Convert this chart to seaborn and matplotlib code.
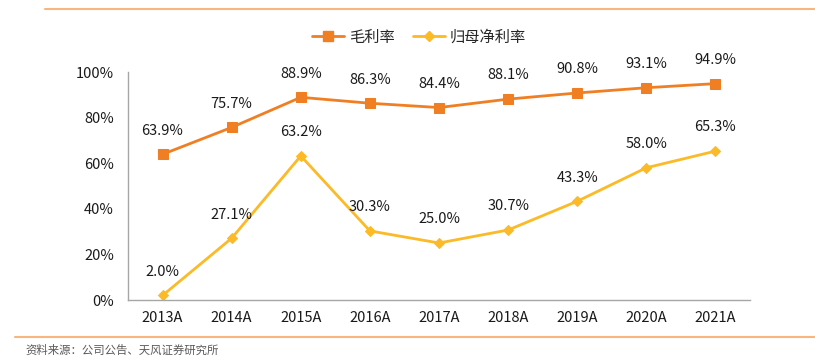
import matplotlib
matplotlib.use("Agg")
import matplotlib.pyplot as plt
import numpy as np
import pandas as pd
import seaborn as sns
from matplotlib.lines import Line2D

years = ["2013A", "2014A", "2015A", "2016A", "2017A", "2018A", "2019A", "2020A", "2021A"]
gross_margin = [63.9, 75.7, 88.9, 86.3, 84.4, 88.1, 90.8, 93.1, 94.9]
net_margin = [2.0, 27.1, 63.2, 30.3, 25.0, 30.7, 43.3, 58.0, 65.3]
series_names = ["毛利率", "归母净利率"]

ORANGE = "#F07F23"
YELLOW = "#FBBA26"
GRAY = "#A6A6A6"

sns.set_theme(style="white")
plt.rcParams["font.family"] = ["Noto Sans CJK SC", "DejaVu Sans"]

df = pd.DataFrame({
    "pos": list(range(len(years))) * 2,
    "value": gross_margin + net_margin,
    "series": [series_names[0]] * len(years) + [series_names[1]] * len(years),
})

fig = plt.figure(figsize=(8.15, 3.58), dpi=100)
ax = fig.add_axes([128 / 815, 1 - 300 / 358, (750 - 128) / 815, (300 - 72) / 358])

styles = {series_names[0]: (ORANGE, "s", 6.5), series_names[1]: (YELLOW, "D", 5.5)}
for name, (color, marker, ms) in styles.items():
    sub = df[df["series"] == name]
    sns.lineplot(data=sub, x="pos", y="value", color=color, marker=marker,
                 markersize=ms, markeredgecolor=color, linewidth=2, ax=ax, legend=False)
    for x, y in zip(sub["pos"], sub["value"]):
        ax.annotate(f"{y:.1f}%", (x, y), xytext=(0, 12), textcoords="offset points",
                    ha="center", va="bottom", fontsize=10.5, color="#1a1a1a")

ax.set_xlim(-0.5, len(years) - 0.5)
ax.set_ylim(0, 100)
ax.set_yticks(np.arange(0, 101, 20))
ax.set_yticklabels([f"{v}%" for v in range(0, 101, 20)], fontsize=10.5, color="#1a1a1a")
ax.set_xticks(range(len(years)))
ax.set_xticklabels(years, fontsize=10.5, color="#1a1a1a")
ax.set_xticks(np.arange(-0.5, len(years), 1), minor=True)
ax.tick_params(axis="x", which="major", length=0, pad=8)
ax.tick_params(axis="x", which="minor", length=4, color=GRAY, width=1, direction="out")
ax.tick_params(axis="y", length=4, color=GRAY, width=1, direction="out", pad=6)
ax.set_xlabel("")
ax.set_ylabel("")
for side in ["top", "right"]:
    ax.spines[side].set_visible(False)
for side in ["left", "bottom"]:
    ax.spines[side].set_color(GRAY)
    ax.spines[side].set_linewidth(1)

handles = [
    Line2D([0], [0], color=ORANGE, marker="s", markersize=6.5, linewidth=2),
    Line2D([0], [0], color=YELLOW, marker="D", markersize=5.5, linewidth=2),
]
fig.legend(handles, series_names, loc="center", bbox_to_anchor=(419 / 815, 1 - 37 / 358),
           ncol=2, frameon=False, fontsize=11, handlelength=2.1, columnspacing=1.2,
           handletextpad=0.3)

# header / footer rules and source note
fig.add_artist(Line2D([45 / 815, 1], [1 - 9 / 358] * 2, color="#F9B57E", linewidth=1.5))
fig.add_artist(Line2D([15 / 815, 1], [1 - 337 / 358] * 2, color="#F9B57E", linewidth=1.5))
fig.text(25 / 815, 1 - 350 / 358, "资料来源：公司公告、天风证券研究所", fontsize=8.2,
         color="#595959", va="center", ha="left")

fig.savefig("out.png", dpi=100)
